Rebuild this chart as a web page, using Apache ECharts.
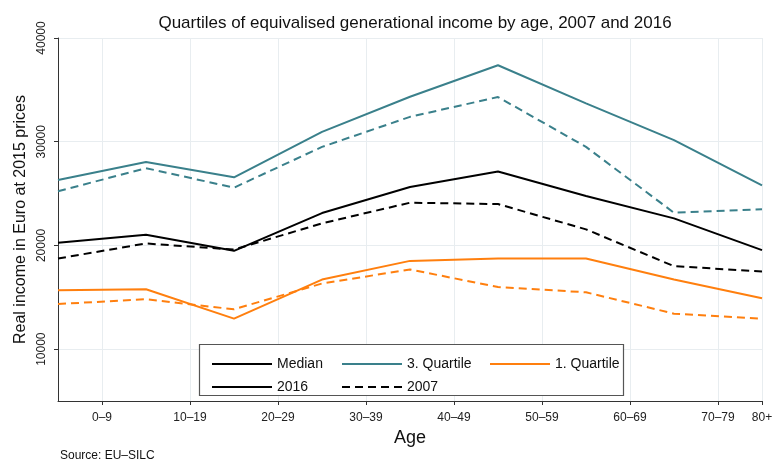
<!DOCTYPE html>
<html>
<head>
<meta charset="utf-8">
<script src="https://cdn.jsdelivr.net/npm/echarts@6/dist/echarts.min.js"></script>
<style>
  html, body { margin: 0; padding: 0; background: #fff; }
  #chart { width: 773px; height: 459px; }
</style>
</head>
<body>
<div id="chart"></div>
<script>
// age group start points (0 = 0-9 ... 80 = 80+)
const ages = [0, 10, 20, 30, 40, 50, 60, 70, 80];
const tickPos = [5, 15, 25, 35, 45, 55, 65, 75, 80];
const tickLabels = ['0–9', '10–19', '20–29', '30–39', '40–49', '50–59', '60–69', '70–79', '80+'];
const yTicks = [10000, 20000, 30000, 40000];

const median2016 = [20250, 21030, 19480, 23120, 25640, 27120, 24770, 22610, 19550];
const median2007 = [18740, 20190, 19600, 22130, 24120, 23990, 21550, 18000, 17490];
const q3_2016 = [26300, 28050, 26570, 30950, 34340, 37370, 33700, 30150, 25800];
const q3_2007 = [25220, 27450, 25570, 29500, 32400, 34310, 29500, 23150, 23480];
const q1_2016 = [15680, 15780, 12940, 16710, 18510, 18740, 18740, 16710, 14900];
const q1_2007 = [14350, 14810, 13840, 16330, 17680, 15990, 15480, 13420, 12940];

const TEAL = '#3a808b';
const ORANGE = '#ff7f0e';
const FONT = 'Liberation Sans, Arial, sans-serif';
const dash = [8, 5];

function pairs(vals) {
  return ages.map((a, i) => [a, vals[i]]);
}

function line(name, vals, color, dashed) {
  return {
    name: name,
    type: 'line',
    data: vals ? pairs(vals) : [],
    symbol: 'none',
    silent: true,
    lineStyle: { color: color, width: 2, type: dashed ? dash : 'solid' },
    itemStyle: { color: color }
  };
}

function legendItem(name, left, top) {
  return {
    data: [name],
    left: left,
    top: top,
    itemWidth: 60,
    itemHeight: 14,
    itemGap: 10,
    selectedMode: false,
    z: 5,
    itemStyle: { opacity: 0 },
    textStyle: { fontSize: 14, color: '#111', fontFamily: FONT }
  };
}

const chart = echarts.init(document.getElementById('chart'));

chart.setOption({
  animation: false,
  backgroundColor: '#fff',
  title: {
    text: 'Quartiles of equivalised generational income by age, 2007 and 2016',
    left: 410,
    top: 10,
    textAlign: 'center',
    textStyle: { fontSize: 17, fontWeight: 'normal', color: '#111', fontFamily: FONT }
  },
  grid: { left: 58, right: 11, top: 38, bottom: 58, outerBoundsMode: 'none' },
  xAxis: {
    type: 'value',
    min: 0,
    max: 80,
    name: 'Age',
    nameLocation: 'middle',
    nameGap: 22,
    nameTextStyle: { fontSize: 18, color: '#111', fontFamily: FONT },
    axisLine: { lineStyle: { color: '#333', width: 1 } },
    axisTick: { customValues: tickPos, length: 4, lineStyle: { color: '#333' } },
    axisLabel: {
      customValues: tickPos,
      formatter: v => tickLabels[tickPos.indexOf(v)],
      fontSize: 12,
      color: '#222',
      margin: 11,
      fontFamily: FONT
    },
    splitLine: { show: true, lineStyle: { color: '#e8edf0', width: 1 } }
  },
  yAxis: {
    type: 'value',
    min: 5000,
    max: 40000,
    name: 'Real income in Euro at 2015 prices',
    nameLocation: 'middle',
    nameRotate: 90,
    nameGap: 26,
    nameTextStyle: { fontSize: 16, color: '#111', fontFamily: FONT },
    axisLine: { show: true, lineStyle: { color: '#333', width: 1 } },
    axisTick: { show: true, customValues: yTicks, length: 4, lineStyle: { color: '#333' } },
    axisLabel: {
      customValues: yTicks,
      rotate: 90,
      formatter: v => String(v),
      fontSize: 12,
      color: '#222',
      margin: 10,
      fontFamily: FONT
    },
    splitLine: { show: true, lineStyle: { color: '#e8edf0', width: 1 } }
  },
  legend: [
    legendItem('Median', 206, 352),
    legendItem('3. Quartile', 336, 352),
    legendItem('1. Quartile', 484, 352),
    legendItem('2016', 206, 375),
    legendItem('2007', 336, 375)
  ],
  graphic: [
    {
      type: 'rect',
      z: 3,
      shape: { x: 199.5, y: 344.5, width: 424, height: 51 },
      style: { fill: '#fff', stroke: '#555', lineWidth: 1.2 }
    },
    {
      type: 'text',
      left: 60,
      top: 450,
      style: { text: 'Source: EU–SILC', fontSize: 12, fill: '#111', fontFamily: FONT }
    }
  ],
  series: [
    line('Median', median2016, '#000', false),
    line('Median 2007', median2007, '#000', true),
    line('3. Quartile', q3_2016, TEAL, false),
    line('3. Quartile 2007', q3_2007, TEAL, true),
    line('1. Quartile', q1_2016, ORANGE, false),
    line('1. Quartile 2007', q1_2007, ORANGE, true),
    line('2016', null, '#000', false),
    line('2007', null, '#000', true)
  ]
});
</script>
</body>
</html>
